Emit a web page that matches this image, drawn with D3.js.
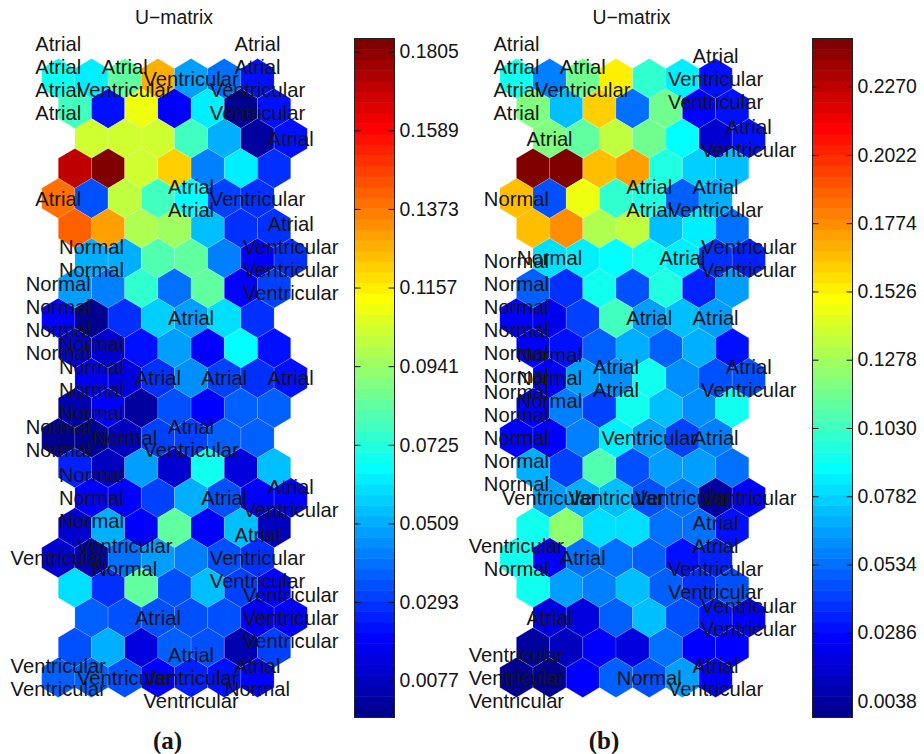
<!DOCTYPE html>
<html>
<head>
<meta charset="utf-8">
<script src="https://cdn.jsdelivr.net/npm/d3@7"></script>
<style>
    body { margin: 0; background: #fff; }
    text { font-family: "Liberation Sans", Arial, sans-serif; fill: #151515; }
</style>
</head>
<body>
<div id="chart"></div>
<script>
// U-matrix values, one row of 7 map units per line
var umatA = [
    [.070, .063, .085, .128, .049, .041, .021],
    [.078, .021, .111, .018, .064, .000, .023],
    [.104, .104, .104, .079, .051, .001, .023],
    [.170, .184, .104, .121, .044, .064, .027],
    [.139, .034, .102, .079, .067, .030, .027],
    [.141, .130, .098, .096, .055, .029, .027],
    [.051, .051, .081, .085, .044, .020, .027],
    [.049, .042, .076, .040, .085, .019, .032],
    [.018, .000, .029, .057, .049, .061, .029],
    [.014, .010, .021, .048, .018, .067, .021],
    [.016, .014, .029, .046, .031, .027, .023],
    [.005, .018, .003, .034, .018, .038, .038],
    [.000, .000, .008, .031, .032, .038, .038],
    [.025, .008, .048, .012, .070, .014, .055],
    [.018, .020, .031, .051, .034, .018, .018],
    [.010, .051, .019, .083, .019, .055, .008],
    [.012, .006, .040, .048, .044, .034, .029],
    [.061, .029, .083, .033, .055, .031, .019],
    [.036, .034, .034, .034, .033, .016, .019],
    [.034, .051, .014, .038, .034, .005, .031],
    [.036, .036, .033, .019, .025, .021, .020]
];

var umatB = [
    [.091, .057, .114, .152, .099, .086, .032],
    [.118, .072, .160, .054, .114, .027, .030],
    [.121, .111, .136, .116, .089, .017, .032],
    [.244, .244, .165, .175, .096, .077, .072],
    [.165, .045, .148, .099, .096, .049, .069],
    [.165, .178, .131, .136, .072, .086, .052],
    [.081, .084, .090, .091, .084, .037, .035],
    [.049, .040, .091, .045, .096, .036, .067],
    [.025, .022, .042, .104, .064, .074, .064],
    [.027, .029, .049, .069, .049, .069, .030],
    [.025, .064, .062, .091, .062, .047, .047],
    [.025, .059, .042, .091, .074, .062, .091],
    [.027, .025, .057, .086, .064, .043, .057],
    [.069, .042, .109, .045, .067, .064, .052],
    [.067, .069, .072, .045, .054, .005, .027],
    [.091, .123, .079, .079, .052, .054, .030],
    [.091, .025, .054, .054, .049, .029, .035],
    [.091, .064, .059, .074, .049, .040, .045],
    [.020, .020, .049, .072, .045, .029, .027],
    [.005, .010, .027, .020, .054, .027, .027],
    [.000, .000, .027, .049, .045, .064, .027]
];

// [row, column, labels hit in that map unit]
var labelsA = [
    [0, 0, ["Atrial", "Atrial", "Atrial", "Atrial"]],
    [0, 2, ["Atrial", "Ventricular"]],
    [0, 4, ["Ventricular"]],
    [0, 6, ["Atrial", "Atrial", "Ventricular", "Ventricular"]],
    [2, 6, ["Atrial"]],
    [4, 0, ["Atrial"]],
    [4, 4, ["Atrial", "Atrial"]],
    [4, 6, ["Ventricular"]],
    [6, 0, ["Normal", "Normal"]],
    [6, 6, ["Atrial", "Ventricular", "Ventricular", "Ventricular"]],
    [8, 0, ["Normal", "Normal", "Normal", "Normal"]],
    [8, 4, ["Atrial"]],
    [10, 0, ["Normal", "Normal", "Normal", "Normal"]],
    [10, 2, ["Atrial"]],
    [10, 4, ["Atrial"]],
    [10, 6, ["Atrial"]],
    [12, 0, ["Normal", "Normal"]],
    [12, 2, ["Normal"]],
    [12, 4, ["Atrial", "Ventricular"]],
    [14, 0, ["Normal", "Normal", "Normal"]],
    [14, 4, ["Atrial"]],
    [14, 6, ["Atrial", "Ventricular"]],
    [16, 0, ["Ventricular"]],
    [16, 2, ["Ventricular", "Normal"]],
    [16, 6, ["Atrial", "Ventricular", "Ventricular"]],
    [18, 2, ["Atrial"]],
    [18, 6, ["Ventricular", "Ventricular", "Ventricular"]],
    [20, 0, ["Ventricular", "Ventricular"]],
    [20, 2, ["Ventricular"]],
    [20, 4, ["Atrial", "Ventricular", "Ventricular"]],
    [20, 6, ["Atrial", "Normal"]]
];

var labelsB = [
    [0, 0, ["Atrial", "Atrial", "Atrial", "Atrial"]],
    [0, 2, ["Atrial", "Ventricular"]],
    [0, 6, ["Atrial", "Ventricular", "Ventricular"]],
    [2, 0, ["Atrial"]],
    [2, 6, ["Atrial", "Ventricular"]],
    [4, 0, ["Normal"]],
    [4, 4, ["Atrial", "Atrial"]],
    [4, 6, ["Atrial", "Ventricular"]],
    [6, 0, ["Normal"]],
    [6, 4, ["Atrial"]],
    [6, 6, ["Ventricular", "Ventricular"]],
    [8, 0, ["Normal", "Normal", "Normal", "Normal", "Normal", "Normal"]],
    [8, 4, ["Atrial"]],
    [8, 6, ["Atrial"]],
    [10, 0, ["Normal", "Normal", "Normal"]],
    [10, 2, ["Atrial", "Atrial"]],
    [10, 6, ["Atrial", "Ventricular"]],
    [12, 0, ["Normal", "Normal", "Normal", "Normal", "Normal"]],
    [12, 4, ["Ventricular"]],
    [12, 6, ["Atrial"]],
    [14, 0, ["Ventricular"]],
    [14, 2, ["Ventricular"]],
    [14, 4, ["Ventricular"]],
    [14, 6, ["Ventricular"]],
    [16, 0, ["Ventricular", "Normal"]],
    [16, 2, ["Atrial"]],
    [16, 6, ["Atrial", "Atrial", "Ventricular", "Ventricular"]],
    [18, 0, ["Atrial"]],
    [18, 6, ["Ventricular", "Ventricular"]],
    [20, 0, ["Ventricular", "Ventricular", "Ventricular"]],
    [20, 4, ["Normal"]],
    [20, 6, ["Atrial", "Ventricular"]]
];

var ticksA = [0.0077, 0.0293, 0.0509, 0.0725, 0.0941, 0.1157, 0.1373, 0.1589, 0.1805];
var ticksB = [0.0038, 0.0286, 0.0534, 0.0782, 0.1030, 0.1278, 0.1526, 0.1774, 0.2022, 0.2270];

// colour limits
var limitsA = [-0.0024, 0.1841];
var limitsB = [-0.0022, 0.2445];

var svgWidth = 924;
var svgHeight = 754;

var svg = d3.select("#chart")
    .append("svg")
    .attr("width", svgWidth)
    .attr("height", svgHeight);

function clamp01(v) {
    return Math.max(0, Math.min(1, v));
}

// same 64 steps as matlab jet(64)
var jet = d3.range(64).map(function(i) {
    var t = (i + 1) / 64;
    return d3.rgb(
        255 * clamp01(1.5 - Math.abs(4 * t - 3)),
        255 * clamp01(1.5 - Math.abs(4 * t - 2)),
        255 * clamp01(1.5 - Math.abs(4 * t - 1))
    ).formatRgb();
});

// the lattice is sheared: every row slides half a unit, back and forth
var rowShift = [0, 0.5, 1, 0.5];
var line = d3.line();

function drawMap(values, labels, limits, ticks, opt) {
    var color = d3.scaleQuantize().domain(limits).range(jet);

    var x = d3.scaleLinear().domain([0, 1]).range([opt.x0, opt.x0 + 33.2]);
    var y = d3.scaleLinear().domain([0, 20]).range([78.5, 677.5]);

    function unitX(row, col) {
        return x(col + rowShift[row % 4]);
    }

    var hw = (x(1) - x(0)) / 2;
    var step = y(1) - y(0);
    var hex = [[0, -step * 2 / 3], [hw, -step / 3], [hw, step / 3], [0, step * 2 / 3], [-hw, step / 3], [-hw, -step / 3]];

    var cells = [];
    values.forEach(function(rowValues, row) {
        rowValues.forEach(function(v, col) {
            cells.push({row: row, col: col, value: v});
        });
    });

    var group = svg.append("g");

    group.selectAll("path.unit")
        .data(cells)
        .enter()
        .append("path")
        .attr("class", "unit")
        .attr("transform", d => `translate(${unitX(d.row, d.col)}, ${y(d.row)})`)
        .attr("d", line(hex) + "Z")
        .attr("fill", d => color(d.value))
        .attr("stroke", "#fff")
        .attr("stroke-opacity", 0.3)
        .attr("stroke-width", 0.5);

    // labels of one unit are stacked around its centre
    var texts = [];
    labels.forEach(function(l) {
        l[2].forEach(function(name, i) {
            texts.push({
                x: unitX(l[0], l[1]),
                y: y(l[0]) + (i - (l[2].length - 1) / 2) * 23,
                name: name
            });
        });
    });

    group.selectAll("text.hit")
        .data(texts)
        .enter()
        .append("text")
        .attr("class", "hit")
        .attr("x", d => d.x)
        .attr("y", d => d.y)
        .attr("dy", "0.36em")
        .attr("text-anchor", "middle")
        .attr("font-size", 20.2)
        .text(d => d.name);

    group.append("text")
        .attr("x", opt.titleX)
        .attr("y", 24)
        .attr("text-anchor", "middle")
        .attr("font-size", 19.4)
        .text("U\u2212matrix");

    group.append("text")
        .attr("x", opt.captionX)
        .attr("y", 749)
        .attr("text-anchor", "middle")
        .attr("font-size", 25)
        .attr("font-weight", "bold")
        .style("font-family", '"Liberation Serif", serif')
        .text(opt.caption);

    // colorbar
    var barTop = 38.5;
    var barBottom = 717.5;
    var barWidth = 40;
    var barY = d3.scaleLinear().domain(limits).range([barBottom, barTop]);
    var bar = svg.append("g").attr("transform", `translate(${opt.barX}, 0)`);
    var bandStep = (limits[1] - limits[0]) / jet.length;

    bar.selectAll("rect")
        .data(jet)
        .enter()
        .append("rect")
        .attr("x", 0)
        .attr("width", barWidth)
        .attr("y", (d, i) => barY(limits[0] + (i + 1) * bandStep))
        .attr("height", (barBottom - barTop) / jet.length + 0.5)
        .attr("fill", d => d);

    bar.append("g")
        .attr("transform", `translate(${barWidth}, 0)`)
        .call(d3.axisRight(barY).tickValues(ticks).tickFormat(d3.format(".4f")).tickSizeInner(-6).tickSizeOuter(0).tickPadding(5))
        .call(g => g.select(".domain").remove())
        .call(g => g.selectAll("text").attr("font-size", 19.4).attr("font-family", null))
        .call(g => g.selectAll("line").attr("stroke", "#111"));

    bar.append("g")
        .call(d3.axisLeft(barY).tickValues(ticks).tickFormat("").tickSizeInner(-6).tickSizeOuter(0))
        .call(g => g.select(".domain").remove())
        .call(g => g.selectAll("line").attr("stroke", "#111"));

    bar.append("rect")
        .attr("y", barTop)
        .attr("width", barWidth)
        .attr("height", barBottom - barTop)
        .attr("fill", "none")
        .attr("stroke", "#222")
        .attr("stroke-width", 1);
}

drawMap(umatA, labelsA, limitsA, ticksA, {x0: 58.3, barX: 354.5, titleX: 174, captionX: 167.5, caption: "(a)"});
drawMap(umatB, labelsB, limitsB, ticksB, {x0: 516.4, barX: 812.5, titleX: 631.5, captionX: 604, caption: "(b)"});
</script>
</body>
</html>
